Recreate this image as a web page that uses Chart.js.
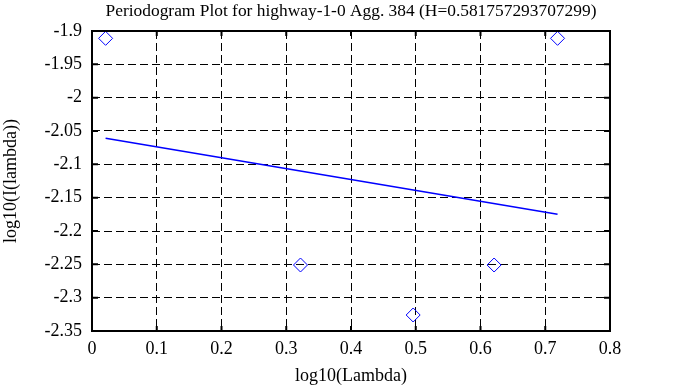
<!DOCTYPE html>
<html>
<head>
<meta charset="utf-8">
<script src="https://cdn.jsdelivr.net/npm/chart.js@4"></script>
<style>
  html, body { margin: 0; padding: 0; background: #fff; }
  #wrap { width: 673px; height: 387px; }
</style>
</head>
<body>
<div id="wrap"><canvas id="chart" width="673" height="387"></canvas></div>
<script>
// values
const lambdaLog = [0.021, 0.322, 0.496, 0.621, 0.719];
const periodLog = [-1.911, -2.251, -2.326, -2.251, -1.911];

// least squares fit line, end points
const fitX = [0.021, 0.719];
const fitY = [-2.061, -2.175];

const titleText = 'Periodogram Plot for highway-1-0 Agg. 384 (H=0.581757293707299)';
const xTicks = [0, 0.1, 0.2, 0.3, 0.4, 0.5, 0.6, 0.7, 0.8];
const xTickLabels = ['0', '0.1', '0.2', '0.3', '0.4', '0.5', '0.6', '0.7', '0.8'];
const yTicks = [-1.9, -1.95, -2, -2.05, -2.1, -2.15, -2.2, -2.25, -2.3, -2.35];
const yTickLabels = ['-1.9', '-1.95', '-2', '-2.05', '-2.1', '-2.15', '-2.2', '-2.25', '-2.3', '-2.35'];

const fontFamily = "'Liberation Serif', 'DejaVu Serif', serif";
Chart.defaults.font.family = fontFamily;
Chart.defaults.color = '#000';

// frame, inward ticks and the title
const framePlugin = {
  id: 'frame',
  afterDraw(chart) {
    const ctx = chart.ctx;
    const a = chart.chartArea;
    const xs = chart.scales.x, ys = chart.scales.y;
    ctx.save();
    ctx.strokeStyle = '#000';
    ctx.lineWidth = 2;
    ctx.strokeRect(a.left, a.top, a.right - a.left, a.bottom - a.top);
    ctx.beginPath();
    xTicks.forEach(v => {
      const px = xs.getPixelForValue(v);
      ctx.moveTo(px, a.top); ctx.lineTo(px, a.top + 5);
      ctx.moveTo(px, a.bottom); ctx.lineTo(px, a.bottom - 5);
    });
    yTicks.forEach(v => {
      const py = ys.getPixelForValue(v);
      ctx.moveTo(a.left, py); ctx.lineTo(a.left + 6, py);
      ctx.moveTo(a.right, py); ctx.lineTo(a.right - 6, py);
    });
    ctx.stroke();

    ctx.fillStyle = '#000';
    ctx.font = '17.4px ' + fontFamily;
    ctx.textAlign = 'center';
    ctx.textBaseline = 'middle';
    ctx.fillText(titleText, (a.left + a.right) / 2, 11);
    ctx.restore();
  }
};

new Chart(document.getElementById('chart'), {
  type: 'scatter',
  data: {
    datasets: [
      {
        label: 'periodogram',
        data: lambdaLog.map((x, i) => ({ x: x, y: periodLog[i] })),
        pointStyle: 'rectRot',
        pointRadius: 7,
        pointBorderWidth: 1,
        borderColor: 'rgb(0,0,255)',
        backgroundColor: 'rgba(0,0,0,0)',
        showLine: false
      },
      {
        label: 'fit',
        data: fitX.map((x, i) => ({ x: x, y: fitY[i] })),
        showLine: true,
        borderColor: 'rgb(0,0,255)',
        borderWidth: 1.5,
        pointRadius: 0
      }
    ]
  },
  options: {
    responsive: false,
    animation: false,
    layout: { padding: { top: 31, right: 63, left: 0, bottom: 0 } },
    plugins: {
      legend: { display: false },
      tooltip: { enabled: false }
    },
    scales: {
      x: {
        type: 'linear',
        min: 0,
        max: 0.8,
        afterBuildTicks: s => { s.ticks = xTicks.map(v => ({ value: v })); },
        afterFit: s => { s.height = 56; },
        ticks: {
          padding: 7,
          font: { size: 18 },
          callback: (v, i) => xTickLabels[i]
        },
        grid: { color: '#000', lineWidth: 1, drawTicks: false },
        border: { display: false, dash: [8, 4] },
        title: { display: true, text: 'log10(Lambda)', font: { size: 18 }, padding: { top: 0, bottom: 0 } }
      },
      y: {
        type: 'linear',
        min: -2.35,
        max: -1.9,
        afterBuildTicks: s => { s.ticks = yTicks.map(v => ({ value: v })); },
        afterFit: s => { s.width = 92; },
        ticks: {
          padding: 10,
          font: { size: 18 },
          callback: (v, i) => yTickLabels[i]
        },
        grid: { color: '#000', lineWidth: 1, drawTicks: false },
        border: { display: false, dash: [8, 4] },
        title: { display: true, text: 'log10(I(lambda))', font: { size: 18 }, padding: { top: 0, bottom: 0 } }
      }
    }
  },
  plugins: [framePlugin]
});
</script>
</body>
</html>
